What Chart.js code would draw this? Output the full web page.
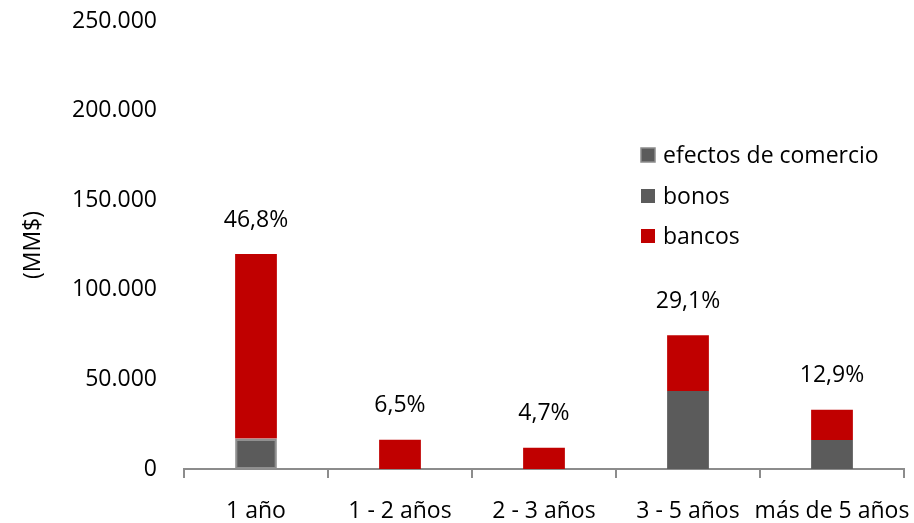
<!DOCTYPE html>
<html>
<head>
<meta charset="utf-8">
<script src="https://cdn.jsdelivr.net/npm/chart.js@4/dist/chart.umd.min.js"></script>
<style>
  html, body { margin: 0; padding: 0; background: #fff; }
  #wrap { width: 914px; height: 523px; }
</style>
</head>
<body>
<div id="wrap"><canvas id="grafico"></canvas></div>
<script>
// datos del grafico
const plazos = ['1 año', '1 - 2 años', '2 - 3 años', '3 - 5 años', 'más de 5 años'];
const efectos = [17000, 0, 0, 0, 0];
const bonos = [0, 0, 0, 43500, 16200];
const bancos = [103000, 16300, 11800, 31200, 16800];
const porcentajes = ['46,8%', '6,5%', '4,7%', '29,1%', '12,9%'];
const ticksY = [0, 50000, 100000, 150000, 200000, 250000];

const fuente = "'Open Sans', sans-serif";

// etiquetas de porcentaje sobre cada barra
const etiquetasPct = {
  id: 'etiquetasPct',
  afterDatasetsDraw(chart) {
    const ctx = chart.ctx;
    const meta = chart.getDatasetMeta(2);
    ctx.save();
    ctx.font = '23px ' + fuente;
    ctx.fillStyle = '#000';
    ctx.textAlign = 'center';
    ctx.textBaseline = 'middle';
    meta.data.forEach((bar, i) => {
      const total = efectos[i] + bonos[i] + bancos[i];
      const y = chart.scales.y.getPixelForValue(total);
      ctx.fillText(porcentajes[i], bar.x, y - 34);
    });
    ctx.restore();
  }
};

// leyenda a la derecha
const leyenda = {
  id: 'leyenda',
  afterDraw(chart) {
    const ctx = chart.ctx;
    const filas = [155, 196, 236];
    ctx.save();
    ctx.font = '23px ' + fuente;
    ctx.textBaseline = 'middle';
    chart.data.datasets.forEach((ds, i) => {
      const y = filas[i];
      ctx.fillStyle = ds.backgroundColor;
      ctx.fillRect(641, y - 7, 14, 14);
      if (i === 0) {
        ctx.strokeStyle = '#8c8c8c';
        ctx.lineWidth = 1.5;
        ctx.strokeRect(641, y - 7, 14, 14);
      }
      ctx.fillStyle = '#000';
      ctx.fillText(ds.label, 663, y + 1);
    });
    ctx.restore();
  }
};

const datos = {
  labels: plazos,
  datasets: [
    {
      label: 'efectos de comercio',
      data: efectos,
      backgroundColor: '#5b5b5b',
      borderColor: '#8f8f8f',
      borderWidth: 2,
      borderSkipped: false
    },
    {
      label: 'bonos',
      data: bonos,
      backgroundColor: '#5b5b5b',
      borderWidth: 0
    },
    {
      label: 'bancos',
      data: bancos,
      backgroundColor: '#c00000',
      borderWidth: 0
    }
  ]
};

const config = {
  type: 'bar',
  data: datos,
  options: {
    responsive: true,
    maintainAspectRatio: false,
    animation: false,
    categoryPercentage: 1,
    barPercentage: 0.29,
    layout: { padding: { top: 21, right: 10, left: 0, bottom: 0 } },
    plugins: {
      legend: { display: false },
      tooltip: { enabled: false }
    },
    scales: {
      x: {
        stacked: true,
        grid: {
          display: true,
          drawOnChartArea: false,
          drawTicks: true,
          tickLength: 9,
          color: '#8c8c8c',
          lineWidth: 2,
          offset: true
        },
        border: { display: true, color: '#8c8c8c', width: 2 },
        ticks: {
          color: '#000',
          font: { family: fuente, size: 23 },
          padding: 20,
          autoSkip: false,
          maxRotation: 0
        },
        afterFit(scale) {
          scale.height = 54;
          scale.paddingLeft = 0;
          scale.paddingRight = 0;
        }
      },
      y: {
        stacked: true,
        min: 0,
        max: 250000,
        afterBuildTicks(scale) {
          scale.ticks = ticksY.map(v => ({ value: v }));
        },
        grid: { display: false, drawTicks: false },
        border: { display: false },
        ticks: {
          color: '#000',
          padding: 27,
          font: { family: fuente, size: 23 },
          callback: v => v.toLocaleString('es-CL').replace(/,/g, '.')
        },
        title: {
          display: true,
          text: '(MM$)',
          color: '#000',
          font: { family: fuente, size: 23 },
          padding: { top: 20, bottom: 0 }
        },
        afterFit(scale) {
          scale.width = 184;
          scale.paddingTop = 0;
          scale.paddingBottom = 0;
        }
      }
    }
  },
  plugins: [etiquetasPct, leyenda]
};

const grafico = new Chart(document.getElementById('grafico'), config);
</script>
</body>
</html>
